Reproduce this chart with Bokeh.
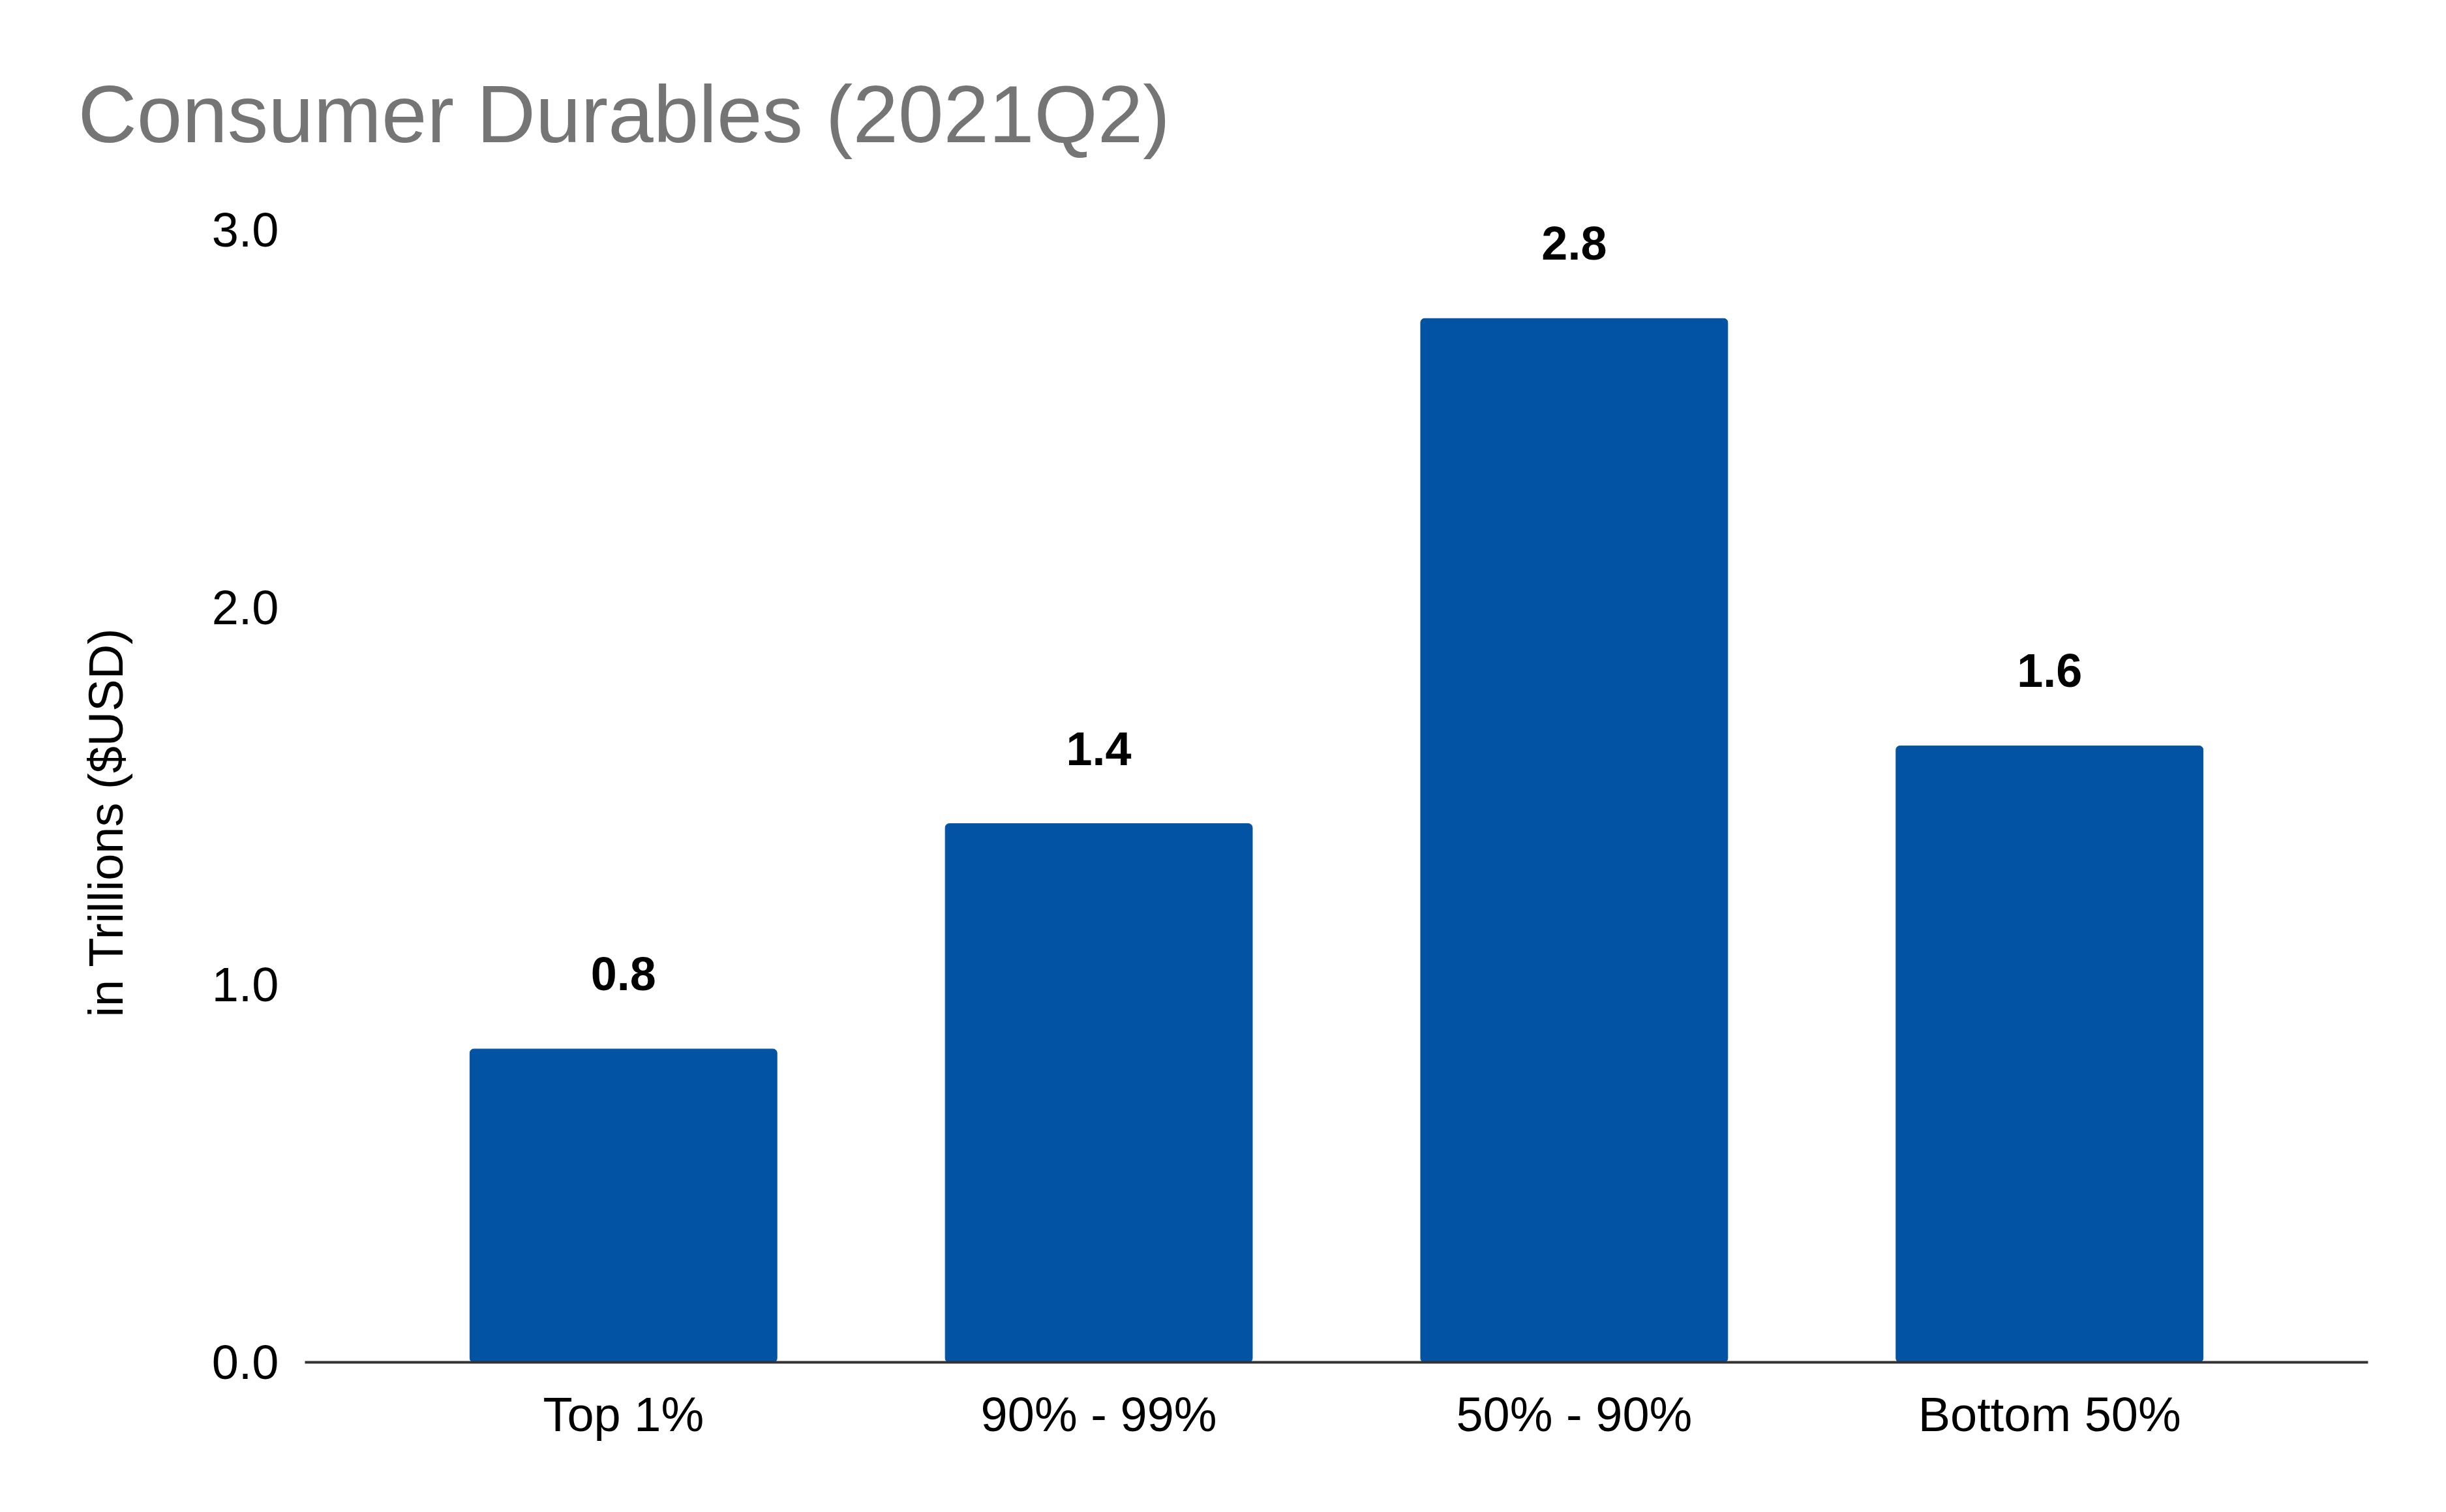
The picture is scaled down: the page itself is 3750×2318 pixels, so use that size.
from bokeh.plotting import figure
from bokeh.models import ColumnDataSource, LabelSet, FixedTicker, PrintfTickFormatter, FactorRange, Range1d, Title
from bokeh.core.properties import value
from bokeh.embed import file_html
from bokeh.resources import INLINE

categories = ["Top 1%", "90% - 99%", "50% - 90%", "Bottom 50%"]
values = [0.83, 1.427, 2.765, 1.633]
y_ticks = [0, 1, 2, 3]
title_text = "Consumer Durables (2021Q2)"
y_label = "in Trillions ($USD)"

labels = [f"{v:.1f}" for v in values]
source = ColumnDataSource(data=dict(cat=categories, val=values, lab=labels))

FONT = "Liberation Sans"
W, H = 3734, 2300

p = figure(
    width=W, height=H,
    x_range=FactorRange(factors=categories, range_padding=0.085, range_padding_units="percent"),
    y_range=Range1d(0, 3.188),
    output_backend="svg", toolbar_location=None,
    min_border_left=465, min_border_right=104, min_border_top=243, min_border_bottom=212,
)
p.outline_line_color = None
p.background_fill_color = "white"
p.border_fill_color = "white"

p.title.text = title_text
p.title.text_font = FONT
p.title.text_font_size = "125px"
p.title.text_font_style = "normal"
p.title.text_color = "#757575"
p.title.align = "left"
p.title.offset = -348
p.title.standoff = 0

p.vbar(x="cat", top="val", width=0.646, source=source, color="#0353a4", border_radius=6)

lbls = LabelSet(x="cat", y="val", text="lab", source=source, y_offset=115,
                text_align="center", text_baseline="middle",
                text_font=value(FONT), text_font_size=value("72px"),
                text_font_style=value("bold"), text_color="#000000")
p.add_layout(lbls)

p.xgrid.visible = False
p.ygrid.visible = False

xa = p.xaxis[0]
xa.axis_line_color = "#333333"
xa.axis_line_width = 4
xa.major_tick_line_color = None
xa.minor_tick_line_color = None
xa.major_label_text_font = FONT
xa.major_label_text_font_size = "74px"
xa.major_label_text_color = "#000000"
xa.major_label_standoff = 32

ya = p.yaxis[0]
ya.ticker = FixedTicker(ticks=y_ticks)
ya.formatter = PrintfTickFormatter(format="%.1f")
ya.axis_line_color = None
ya.major_tick_line_color = None
ya.minor_tick_line_color = None
ya.major_tick_out = 0
ya.major_label_text_font = FONT
ya.major_label_text_font_size = "74px"
ya.major_label_text_color = "#000000"
ya.major_label_standoff = 40

ylab = Title(text=y_label, align="left", offset=529, standoff=236,
             text_font=FONT, text_font_size="74px", text_font_style="normal",
             text_color="#000000")
p.add_layout(ylab, "left")

open("out.html", "w").write(file_html(p, INLINE))
